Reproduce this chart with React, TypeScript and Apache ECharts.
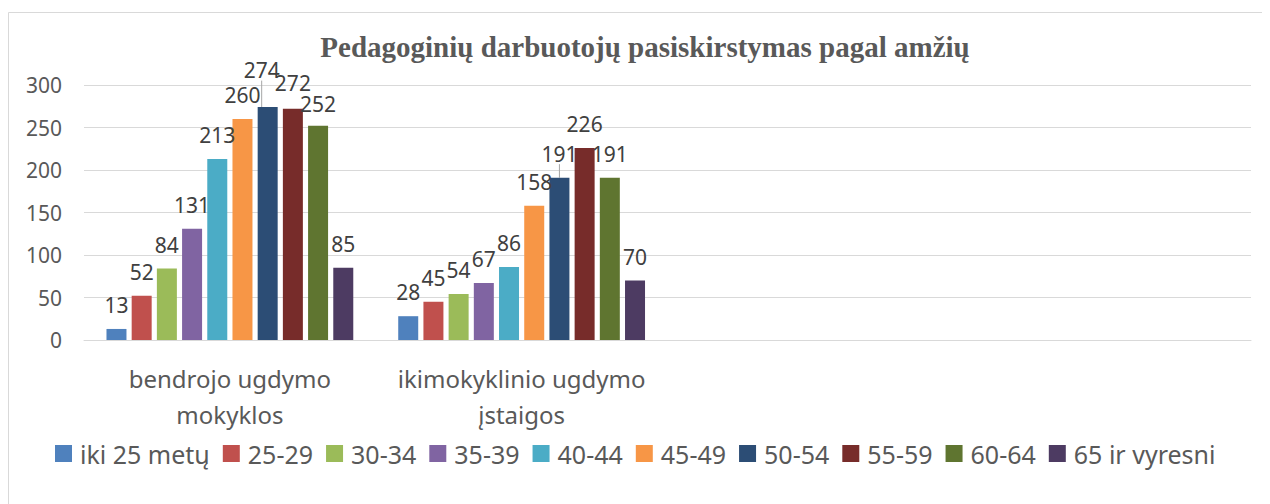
import React, { useEffect, useRef } from "react";
import * as echarts from "echarts";

const TITLE = "Pedagoginių darbuotojų pasiskirstymas pagal amžių";
const CATEGORIES = ["bendrojo ugdymo mokyklos", "ikimokyklinio ugdymo įstaigos", "", ""];
const AGE_GROUPS = [
  "iki 25 metų", "25-29", "30-34", "35-39", "40-44",
  "45-49", "50-54", "55-59", "60-64", "65 ir vyresni",
];
// values per age group: [bendrojo ugdymo mokyklos, ikimokyklinio ugdymo įstaigos]
const IKI25 = [13, 28];
const A25_29 = [52, 45];
const A30_34 = [84, 54];
const A35_39 = [131, 67];
const A40_44 = [213, 86];
const A45_49 = [260, 158];
const A50_54 = [274, 191];
const A55_59 = [272, 226];
const A60_64 = [252, 191];
const A65 = [85, 70];
const SERIES_VALUES = [IKI25, A25_29, A30_34, A35_39, A40_44, A45_49, A50_54, A55_59, A60_64, A65];
const Y_TICKS = { min: 0, max: 300, interval: 50 };

const COLORS = [
  "#4F81BD", "#C0504D", "#9BBB59", "#8064A2", "#4BACC6",
  "#F79646", "#2C4D75", "#772C2A", "#5F7530", "#4D3B62",
];
// label nudges (as in the reference); the first one is drawn with a leader line
const LABEL_NUDGES = [
  { series: 6, dataIndex: 0, dx: -6, dy: -13, leader: true },
  { series: 7, dataIndex: 0, dx: 0, dy: -2, leader: false },
  { series: 8, dataIndex: 0, dx: 0, dy: 2, leader: false },
];

const SANS = "'Noto Sans', sans-serif";

export default function App() {
  const ref = useRef<HTMLDivElement>(null);
  useEffect(() => {
    if (!ref.current) return;
    const chart = echarts.init(ref.current, null, { renderer: "svg" });
    const series = AGE_GROUPS.map((name, si) => {
      const s: any = {
        name,
        type: "bar",
        data: SERIES_VALUES[si].concat([null as any, null as any]),
        barWidth: 20,
        barGap: "26%",
        itemStyle: { color: COLORS[si] },
        label: {
          show: true,
          position: "top",
          distance: 16,
          color: "#404040",
          fontFamily: SANS,
          fontSize: 21,
          lineHeight: 16,
        },
      };
      const nudges = LABEL_NUDGES.filter((n) => n.series === si);
      if (nudges.length) {
        s.labelLayout = (p: any) => {
          const n = nudges.find((x) => x.dataIndex === p.dataIndex);
          return n ? { dx: n.dx, dy: n.dy } : {};
        };
        if (nudges.some((n) => n.leader)) {
          s.labelLine = { show: true, lineStyle: { color: "#a6a6a6", width: 1 } };
        }
      }
      return s;
    });
    chart.setOption({
      animation: false,
      backgroundColor: "#ffffff",
      graphic: [
        {
          type: "rect",
          shape: { x: 0.5, y: 4.5, width: 1400, height: 700 },
          style: { fill: "none", stroke: "#d9d9d9", lineWidth: 1 },
          silent: true,
        },
      ],
      title: {
        text: TITLE,
        left: 637,
        top: 24,
        textAlign: "center",
        padding: 0,
        textStyle: {
          fontFamily: "'Liberation Serif', 'Times New Roman', serif",
          fontWeight: "bold",
          fontSize: 29,
          color: "#595959",
        },
      },
      legend: {
        data: AGE_GROUPS,
        left: 47,
        top: 433,
        padding: 0,
        itemWidth: 17,
        itemHeight: 17,
        itemGap: 13,
        icon: "rect",
        textStyle: {
          fontFamily: SANS,
          fontSize: 25,
          color: "#595959",
          padding: [0, 0, 0, 3],
        },
      },
      grid: { left: 76, right: 19, top: 77, bottom: 164, containLabel: false },
      xAxis: {
        type: "category",
        data: CATEGORIES,
        axisLine: { show: true, lineStyle: { color: "#d9d9d9", width: 1 } },
        axisTick: { show: false },
        axisLabel: {
          interval: 0,
          margin: 20,
          fontFamily: SANS,
          fontSize: 24,
          lineHeight: 36,
          color: "#595959",
          formatter: (v: string) => v.replace(/ (\S+)$/, "\n$1"),
        },
      },
      yAxis: {
        type: "value",
        min: Y_TICKS.min,
        max: Y_TICKS.max,
        interval: Y_TICKS.interval,
        axisLine: { show: false },
        axisTick: { show: false },
        splitLine: { lineStyle: { color: "#d9d9d9", width: 1 } },
        axisLabel: {
          margin: 22,
          fontFamily: SANS,
          fontSize: 21,
          color: "#595959",
        },
      },
      series,
    });
    return () => chart.dispose();
  }, []);
  return <div ref={ref} style={{ width: 1262, height: 496 }} />;
}
